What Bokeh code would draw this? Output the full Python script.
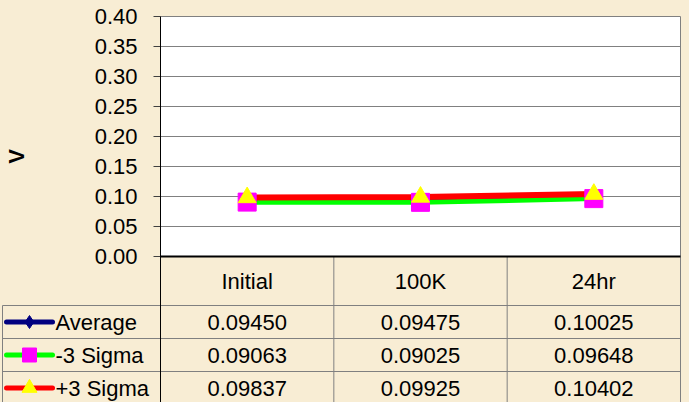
import math
from bokeh.plotting import figure
from bokeh.models import Range1d, GlobalInlineStyleSheet
from bokeh.core.properties import value
from bokeh.embed import file_html
from bokeh.resources import INLINE

# ---------------- data ----------------
categories = ["Initial", "100K", "24hr"]
series_names = ["Average", "-3 Sigma", "+3 Sigma"]
average = [0.09450, 0.09475, 0.10025]
minus3 = [0.09063, 0.09025, 0.09648]
plus3 = [0.09837, 0.09925, 0.10402]
y_ticks = [0.00, 0.05, 0.10, 0.15, 0.20, 0.25, 0.30, 0.35, 0.40]
y_max = 0.40
y_label = "V"

# ---------------- style / layout constants (pixels) ----------------
BG = "#F8EDD4"
GRID = "#808080"
FONT = "Liberation Sans"
FS = "22px"
W, H = 689, 402
PLOT_L, PLOT_R = 160, 680          # white plot area, horizontal
PLOT_T, PLOT_B = 16, 256           # white plot area, vertical
HEADER_H = 49
ROW_H = 33
TABLE_L = 2
KEY_L, KEY_R, KEY_M, LABEL_X = 6, 52, 29, 55
TICK_OUT = 7
TICK_LABEL_R = 137
VLABEL_X, VLABEL_Y = 16, 156

line_colors = ["#000080", "#00FF00", "#FF0000"]
marker_colors = ["#000080", "#FF00FF", "#FFFF00"]
markers = ["diamond", "square", "triangle"]
line_widths = [5, 5, 6]
marker_sizes = [12, 18, 18]
key_sizes = [13, 14, 15]

n = len(categories)
COL_PX = (PLOT_R - PLOT_L) / n
V_PX = (PLOT_B - PLOT_T) / y_max


def ux(px):            # horizontal pixel -> category units
    return (px - PLOT_L) / COL_PX


def uv(py):            # vertical pixel -> value units
    return (PLOT_B - py) / V_PX


TAB_H = H - PLOT_B

p = figure(width=W, height=H,
           x_range=Range1d(ux(0), ux(W)), y_range=Range1d(uv(H), uv(0)),
           output_backend="svg", toolbar_location=None,
           x_axis_location=None, y_axis_location=None, min_border=0)
# table coordinates: pixels below the bottom of the plot area
p.extra_y_ranges = {"tab": Range1d(TAB_H, -PLOT_B)}
p.grid.visible = False
p.outline_line_color = None
p.background_fill_color = BG
p.border_fill_color = BG
p.stylesheets = [GlobalInlineStyleSheet(css="body{background-color:%s;}" % BG)]

xc = [i + 0.5 for i in range(n)]

# ---------------- plot area + value axis ----------------
p.quad(left=[0], right=[n], bottom=[0], top=[y_max], fill_color="white",
       line_color=None)
p.segment(x0=[0] * len(y_ticks), y0=y_ticks, x1=[n] * len(y_ticks), y1=y_ticks,
          line_color=GRID, line_width=1)
p.segment(x0=[ux(PLOT_L - TICK_OUT)] * len(y_ticks), y0=y_ticks,
          x1=[0] * len(y_ticks), y1=y_ticks, line_color="#404040", line_width=1)
p.text(x=[ux(TICK_LABEL_R)] * len(y_ticks), y=y_ticks,
       text=["%.2f" % t for t in y_ticks], text_align="right",
       text_baseline="middle", text_font=value(FONT), text_font_size=FS,
       text_color="black")
p.text(x=[ux(VLABEL_X)], y=[uv(VLABEL_Y)], text=[y_label], angle=math.pi / 2,
       text_align="center", text_baseline="middle", text_font=value(FONT),
       text_font_size=FS, text_font_style="bold", text_color="black")

# ---------------- data table grid ----------------
row_top = [HEADER_H + ROW_H * i for i in range(len(series_names))]
row_mid = [HEADER_H + ROW_H * (i + 0.5) for i in range(len(series_names))]

p.segment(x0=list(range(1, n)), y0=[0] * (n - 1), x1=list(range(1, n)),
          y1=[TAB_H] * (n - 1), y_range_name="tab", line_color=GRID, line_width=1)
p.segment(x0=[ux(TABLE_L)] * len(row_top), y0=row_top, x1=[n] * len(row_top),
          y1=row_top, y_range_name="tab", line_color=GRID, line_width=1)
p.segment(x0=[ux(TABLE_L)], y0=[HEADER_H], x1=[ux(TABLE_L)], y1=[TAB_H],
          y_range_name="tab", line_color=GRID, line_width=1)
# right border of plot area and table
p.segment(x0=[n], y0=[-(PLOT_B - PLOT_T)], x1=[n], y1=[TAB_H], y_range_name="tab",
          line_color=GRID, line_width=1)
# value axis line (continues down through the table)
p.segment(x0=[0], y0=[-(PLOT_B - PLOT_T)], x1=[0], y1=[TAB_H], y_range_name="tab",
          line_color="black", line_width=1)
# category axis line
p.segment(x0=[0], y0=[0], x1=[n], y1=[0], line_color="black", line_width=2)

# ---------------- series ----------------
all_vals = [average, minus3, plus3]
for vals, lc, lw in zip(all_vals, line_colors, line_widths):
    p.line(x=xc, y=vals, line_color=lc, line_width=lw)
for vals, m, mc, ms in zip(all_vals, markers, marker_colors, marker_sizes):
    p.scatter(x=xc, y=vals, marker=m, size=ms, fill_color=mc, line_color=mc)

# ---------------- table text ----------------
p.text(x=xc, y=[HEADER_H / 2] * n, text=categories, y_range_name="tab",
       text_align="center", text_baseline="middle",
       text_font=value(FONT), text_font_size=FS, text_color="black")
for vals, yy in zip(all_vals, row_mid):
    p.text(x=xc, y=[yy] * n, text=["%.5f" % v for v in vals],
           y_range_name="tab", text_align="center", text_baseline="middle",
           text_font=value(FONT), text_font_size=FS, text_color="black")

# row headers with legend keys
for name, yy, lc, mc, m, ks in zip(series_names, row_mid, line_colors,
                                    marker_colors, markers, key_sizes):
    p.segment(x0=[ux(KEY_L)], y0=[yy], x1=[ux(KEY_R)], y1=[yy], y_range_name="tab",
              line_color=lc, line_width=5, line_cap="round")
    p.scatter(x=[ux(KEY_M)], y=[yy], y_range_name="tab", marker=m, size=ks,
              fill_color=mc, line_color=mc)
    p.text(x=[ux(LABEL_X)], y=[yy], text=[name], y_range_name="tab",
           text_align="left", text_baseline="middle", text_font=value(FONT),
           text_font_size=FS, text_color="black")

open("out.html", "w").write(file_html(p, INLINE))
